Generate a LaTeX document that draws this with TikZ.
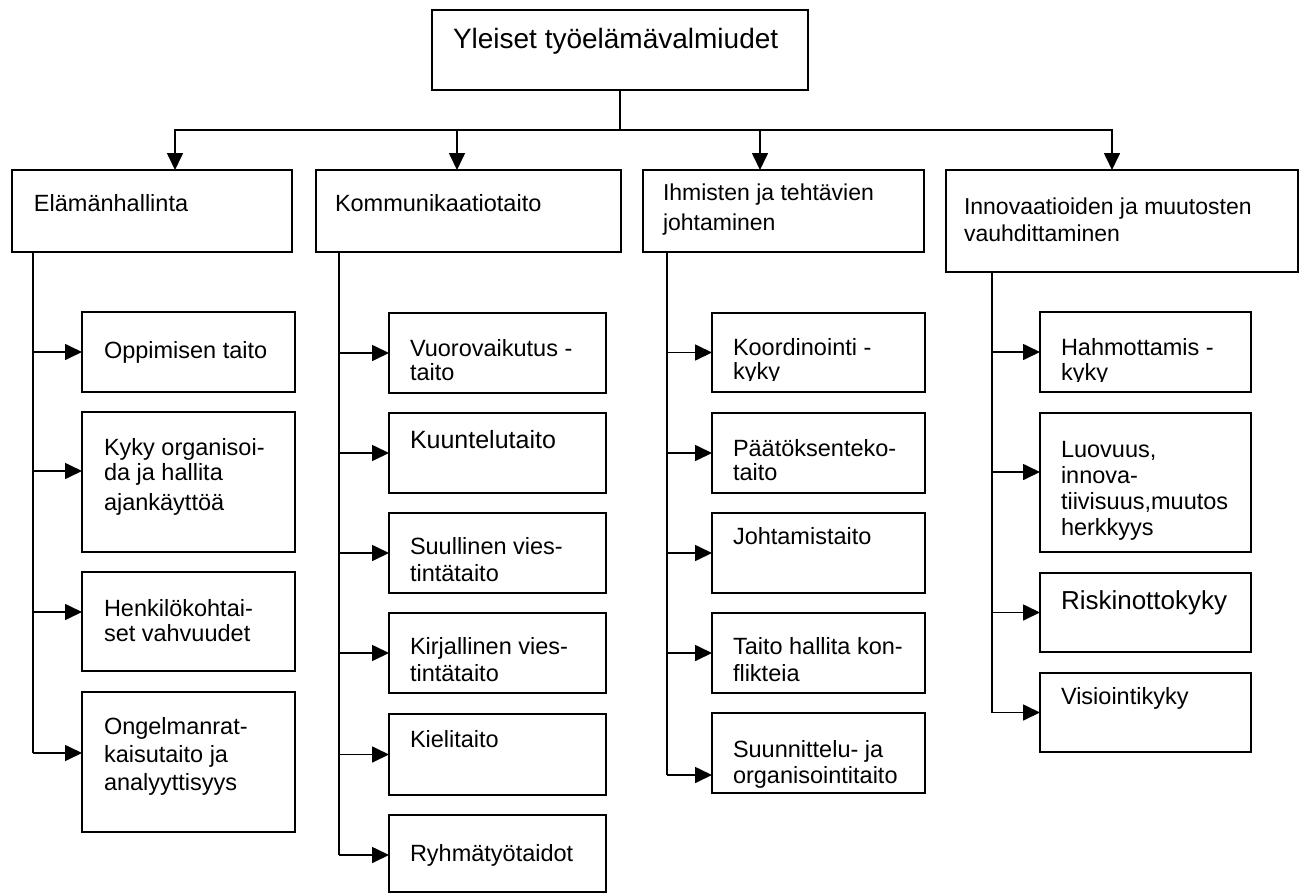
\documentclass[tikz,border=0pt]{standalone}
\usepackage{fontspec}
\setmainfont{Liberation Sans}
\usetikzlibrary{arrows.meta,calc}
\newcommand\bx[5]{\node[box,minimum width=#4pt,minimum height=#5pt] (#1) at (#2,#3) {};}
\begin{document}
\begin{tikzpicture}[x=1pt,y=-1pt,
 box/.style={draw,line width=1.7pt,rectangle,inner sep=0pt,outer sep=0pt,anchor=north west},
 txt/.style={anchor=north west,inner sep=0pt,outer sep=0pt,align=left,font=\fontsize{23.5}{26}\selectfont,yshift=18pt},
 ln/.style={line width=1.7pt},
 arr/.style={line width=1.7pt,-{Triangle[length=17pt,width=16pt]}}]
\useasboundingbox (0,0) rectangle (1302,894);

% top
\bx{T}{432}{10}{376}{80}
\node[txt,font=\fontsize{28}{32}\selectfont,yshift=4pt] (tT) at (453,48) {\rule{0pt}{22pt}Yleiset työelämävalmiudet};

% level 2
\bx{A}{12}{170}{280}{82}
\bx{B}{316}{170}{305}{82}
\bx{C}{643}{170}{281}{82}
\bx{D}{946}{170}{352}{102}
\node[txt] (tA) at (34,211) {\rule{0pt}{18pt}Elämänhallinta};
\node[txt] (tB) at (335,211) {\rule{0pt}{18pt}Kommunikaatiotaito};
\node[txt,font=\fontsize{23}{30}\selectfont] (tC) at (663,200) {\rule{0pt}{18pt}Ihmisten ja tehtävien\\johtaminen};
\node[txt,font=\fontsize{23}{27}\selectfont] (tD) at (964,214) {\rule{0pt}{18pt}Innovaatioiden ja muutosten\\vauhdittaminen};

\coordinate (bus) at (620,130);
\draw[ln] (T.south) -- (bus);
\draw[arr] (bus) -| ([xshift=163pt]A.north west);
\draw[arr] (bus) -| ([xshift=141pt]B.north west);
\draw[arr] (bus) -| ([xshift=117pt]C.north west);
\draw[arr] (bus) -| ([xshift=166pt]D.north west);

% column 1
\bx{a1}{82}{312}{213}{80}
\bx{a2}{82}{412}{213}{140}
\bx{a3}{82}{572}{213}{99}
\bx{a4}{82}{692}{213}{140}
\node[txt] (ta1) at (104,358) {\rule{0pt}{18pt}Oppimisen taito};
\node[txt,font=\fontsize{23.5}{25}\selectfont] (ta2) at (104,455) {\rule{0pt}{18pt}Kyky organisoi-\\da ja hallita\\[5pt]ajankäyttöä};
\node[txt,font=\fontsize{23.5}{25}\selectfont] (ta3) at (104,616) {\rule{0pt}{18pt}Henkilökohtai-\\set vahvuudet};
\node[txt,font=\fontsize{23.5}{28}\selectfont] (ta4) at (104,734) {\rule{0pt}{18pt}Ongelmanrat-\\kaisutaito ja\\analyyttisyys};
\coordinate (tr1) at (33,252);
\draw[ln] (tr1) -- (33,753);
\draw[arr] (a1.west -| tr1) -- (a1.west);
\draw[arr] ([yshift=11pt]a2.west -| tr1) -- ([yshift=11pt]a2.west);
\draw[arr] ([yshift=9.5pt]a3.west -| tr1) -- ([yshift=9.5pt]a3.west);
\draw[arr] ([yshift=9pt]a4.west -| tr1) -- ([yshift=9pt]a4.west);

% column 2
\bx{b1}{389}{313}{217}{80}
\bx{b2}{389}{413}{217}{80}
\bx{b3}{389}{513}{217}{80}
\bx{b4}{389}{613}{217}{80}
\bx{b5}{389}{714}{217}{81}
\bx{b6}{389}{815}{217}{77}
\node[txt,font=\fontsize{23.5}{24}\selectfont] (tb1) at (410,356) {\rule{0pt}{18pt}Vuorovaikutus -\\taito};
\node[txt,font=\fontsize{25}{28}\selectfont,yshift=1pt] (tb2) at (410,448) {\rule{0pt}{19pt}Kuuntelutaito};
\node[txt,font=\fontsize{23.5}{27}\selectfont] (tb3) at (410,554) {\rule{0pt}{18pt}Suullinen vies-\\tintätaito};
\node[txt,font=\fontsize{23.5}{27}\selectfont] (tb4) at (410,654) {\rule{0pt}{18pt}Kirjallinen vies-\\tintätaito};
\node[txt] (tb5) at (410,747) {\rule{0pt}{18pt}Kielitaito};
\node[txt] (tb6) at (410,861) {\rule{0pt}{18pt}Ryhmätyötaidot};
\coordinate (tr2) at (339,252);
\draw[ln] (tr2) -- (339,855);
\foreach \n in {b1,b2,b3,b4,b5}{\draw[arr] (\n.west -| tr2) -- (\n.west);}
\draw[arr] ([yshift=-1.5pt]b6.west -| tr2) -- ([yshift=-1.5pt]b6.west);

% column 3
\bx{c1}{712}{313}{213}{79}
\bx{c2}{712}{413}{213}{80}
\bx{c3}{712}{513}{213}{80}
\bx{c4}{712}{613}{213}{80}
\bx{c5}{712}{713}{213}{80}
\begin{scope}
\clip (700,300) rectangle (940,380.5);
\node[txt,font=\fontsize{23.5}{24}\selectfont] (tc1) at (733,355) {\rule{0pt}{18pt}Koordinointi -\\kyky};
\end{scope}
\node[txt,font=\fontsize{23.5}{24}\selectfont] (tc2) at (733,456) {\rule{0pt}{18pt}Päätöksenteko-\\taito};
\node[txt] (tc3) at (733,544) {\rule{0pt}{18pt}Johtamistaito};
\node[txt,font=\fontsize{23.5}{27}\selectfont] (tc4) at (733,654) {\rule{0pt}{18pt}Taito hallita kon-\\flikteia};
\node[txt] (tc5) at (733,757) {\rule{0pt}{18pt}Suunnittelu- ja\\organisointitaito};
\coordinate (tr3) at (667,252);
\draw[ln] (tr3) -- (667,775);
\foreach \n in {c1,c2,c3,c4}{\draw[arr] (\n.west -| tr3) -- (\n.west);}
\draw[arr] ([yshift=-22pt]c5.west -| tr3) -- ([yshift=-22pt]c5.west);

% column 4
\bx{d1}{1040}{312}{211}{80}
\bx{d2}{1040}{413}{211}{139}
\bx{d3}{1040}{573}{211}{79}
\bx{d4}{1040}{673}{211}{79}
\begin{scope}
\clip (1030,300) rectangle (1260,381);
\node[txt,font=\fontsize{23.5}{25}\selectfont] (td1) at (1061,355) {\rule{0pt}{18pt}Hahmottamis -\\kyky};
\end{scope}
\node[txt] (td2) at (1061,457) {\rule{0pt}{18pt}Luovuus,\\innova-\\tiivisuus,muutos\\herkkyys};
\node[txt,font=\fontsize{26}{30}\selectfont,yshift=2pt] (td3) at (1061,609) {\rule{0pt}{20pt}Riskinottokyky};
\node[txt] (td4) at (1061,704) {\rule{0pt}{18pt}Visiointikyky};
\coordinate (tr4) at (992,272);
\draw[ln] (tr4) -- (992,713);
\draw[arr] (d1.west -| tr4) -- (d1.west);
\draw[arr] ([yshift=10.5pt]d2.west -| tr4) -- ([yshift=10.5pt]d2.west);
\draw[arr] (d3.west -| tr4) -- (d3.west);
\draw[arr] (d4.west -| tr4) -- (d4.west);
\end{tikzpicture}
\end{document}
